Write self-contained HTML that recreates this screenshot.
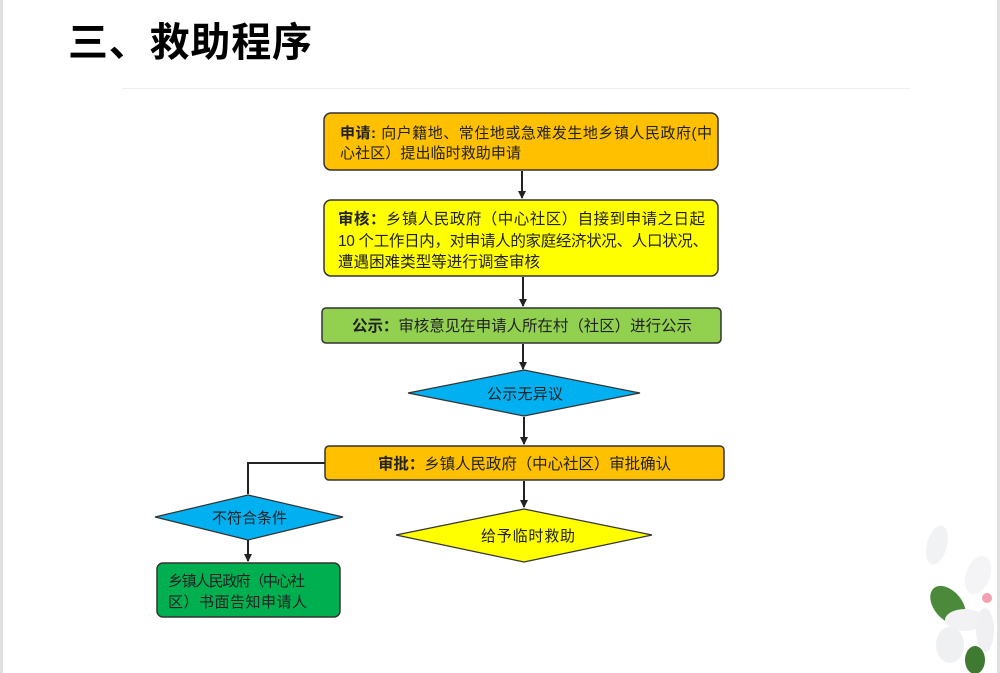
<!DOCTYPE html>
<html><head><meta charset="utf-8"><style>
html,body{margin:0;padding:0;background:#fff;}
svg{display:block;}
text{font-family:"Liberation Sans","Noto Sans CJK SC",sans-serif;}
</style></head><body>
<svg width="1000" height="673" viewBox="0 0 1000 673" xmlns="http://www.w3.org/2000/svg">
<defs>
<marker id="a" markerWidth="8" markerHeight="8" refX="7" refY="4" orient="auto" markerUnits="userSpaceOnUse"><path d="M0,0 L8,4 L0,8 Z" fill="#222"/></marker>
</defs>
<rect x="0" y="0" width="3" height="673" fill="#e0e0e0"/>
<rect x="997" y="0" width="3" height="673" fill="#e0e0e0"/>
<text x="68" y="56" font-size="40" font-weight="bold" fill="#000" textLength="244" lengthAdjust="spacing">三、救助程序</text>
<line x1="122" y1="88.5" x2="910" y2="88.5" stroke="#eee" stroke-width="1"/>

<g stroke="#222" stroke-width="2" fill="none">
<line x1="522" y1="171" x2="522" y2="198" marker-end="url(#a)"/>
<line x1="523" y1="277" x2="523" y2="306" marker-end="url(#a)"/>
<line x1="523" y1="344" x2="523" y2="369" marker-end="url(#a)"/>
<line x1="524" y1="417" x2="524" y2="444" marker-end="url(#a)"/>
<line x1="524" y1="481" x2="524" y2="507" marker-end="url(#a)"/>
<polyline points="325,463 248,463 248,494"/>
<line x1="248" y1="540" x2="248" y2="561" marker-end="url(#a)"/>
</g>

<rect x="324" y="113" width="394" height="57" rx="7" fill="#FFC000" stroke="#333" stroke-width="1.5"/>
<text x="340" y="138" font-size="15" fill="#222" textLength="372" lengthAdjust="spacing"><tspan font-weight="bold">申请:</tspan> 向户籍地、常住地或急难发生地乡镇人民政府(中</text>
<text x="340" y="158" font-size="15" fill="#222" textLength="181" lengthAdjust="spacing">心社区）提出临时救助申请</text>

<rect x="324" y="200" width="394" height="76" rx="7" fill="#FFFF00" stroke="#333" stroke-width="1.5"/>
<text x="338" y="224" font-size="15.5" fill="#222" textLength="367" lengthAdjust="spacing"><tspan font-weight="bold">审核：</tspan>乡镇人民政府（中心社区）自接到申请之日起</text>
<text x="338" y="246" font-size="15.5" fill="#222" textLength="370" lengthAdjust="spacing">10 个工作日内，对申请人的家庭经济状况、人口状况、</text>
<text x="338" y="267" font-size="15.5" fill="#222" textLength="202" lengthAdjust="spacing">遭遇困难类型等进行调查审核</text>

<rect x="322" y="308" width="399" height="35" rx="4" fill="#92D050" stroke="#333" stroke-width="1.5"/>
<text x="352" y="331" font-size="15.5" fill="#222" textLength="340" lengthAdjust="spacing"><tspan font-weight="bold">公示：</tspan>审核意见在申请人所在村（社区）进行公示</text>

<polygon points="408,393 524,370 640,393 524,416" fill="#00B0F0" stroke="#333" stroke-width="1.2"/>
<text x="487" y="399" font-size="15" fill="#222" textLength="76" lengthAdjust="spacing">公示无异议</text>

<rect x="325" y="446" width="399" height="34" rx="4" fill="#FFC000" stroke="#333" stroke-width="1.5"/>
<text x="378" y="469" font-size="15.5" fill="#222" textLength="293" lengthAdjust="spacing"><tspan font-weight="bold">审批：</tspan>乡镇人民政府（中心社区）审批确认</text>

<polygon points="155,517 248,495 343,517 248,540" fill="#00B0F0" stroke="#333" stroke-width="1.2"/>
<text x="212" y="523" font-size="15" fill="#222" textLength="75" lengthAdjust="spacing">不符合条件</text>

<polygon points="396,535 524,509 652,535 524,562" fill="#FFFF00" stroke="#333" stroke-width="1.2"/>
<text x="481" y="541" font-size="15" fill="#222" textLength="94" lengthAdjust="spacing">给予临时救助</text>

<rect x="157" y="563" width="183" height="54" rx="6" fill="#00B050" stroke="#333" stroke-width="1.5"/>
<text x="168" y="586" font-size="15" fill="#222" textLength="137" lengthAdjust="spacing">乡镇人民政府（中心社</text>
<text x="168" y="607" font-size="15" fill="#222" textLength="139" lengthAdjust="spacing">区）书面告知申请人</text>

<g>
<ellipse cx="937" cy="545" rx="10" ry="20" fill="#f0f2f4" transform="rotate(15 937 545)"/>
<ellipse cx="948" cy="605" rx="14" ry="22" fill="#4a8a3a" transform="rotate(-40 948 605)"/>
<ellipse cx="978" cy="575" rx="12" ry="20" fill="#f4f4f6" transform="rotate(20 978 575)"/>
<ellipse cx="965" cy="620" rx="20" ry="11" fill="#f2f2f4"/>
<ellipse cx="985" cy="630" rx="9" ry="22" fill="#f0f0f2"/>
<ellipse cx="950" cy="645" rx="14" ry="18" fill="#eef0f2"/>
<ellipse cx="975" cy="660" rx="10" ry="14" fill="#3f7a30"/>
<circle cx="987" cy="598" r="5" fill="#f2a0b0"/>
</g>
</svg>
</body></html>
